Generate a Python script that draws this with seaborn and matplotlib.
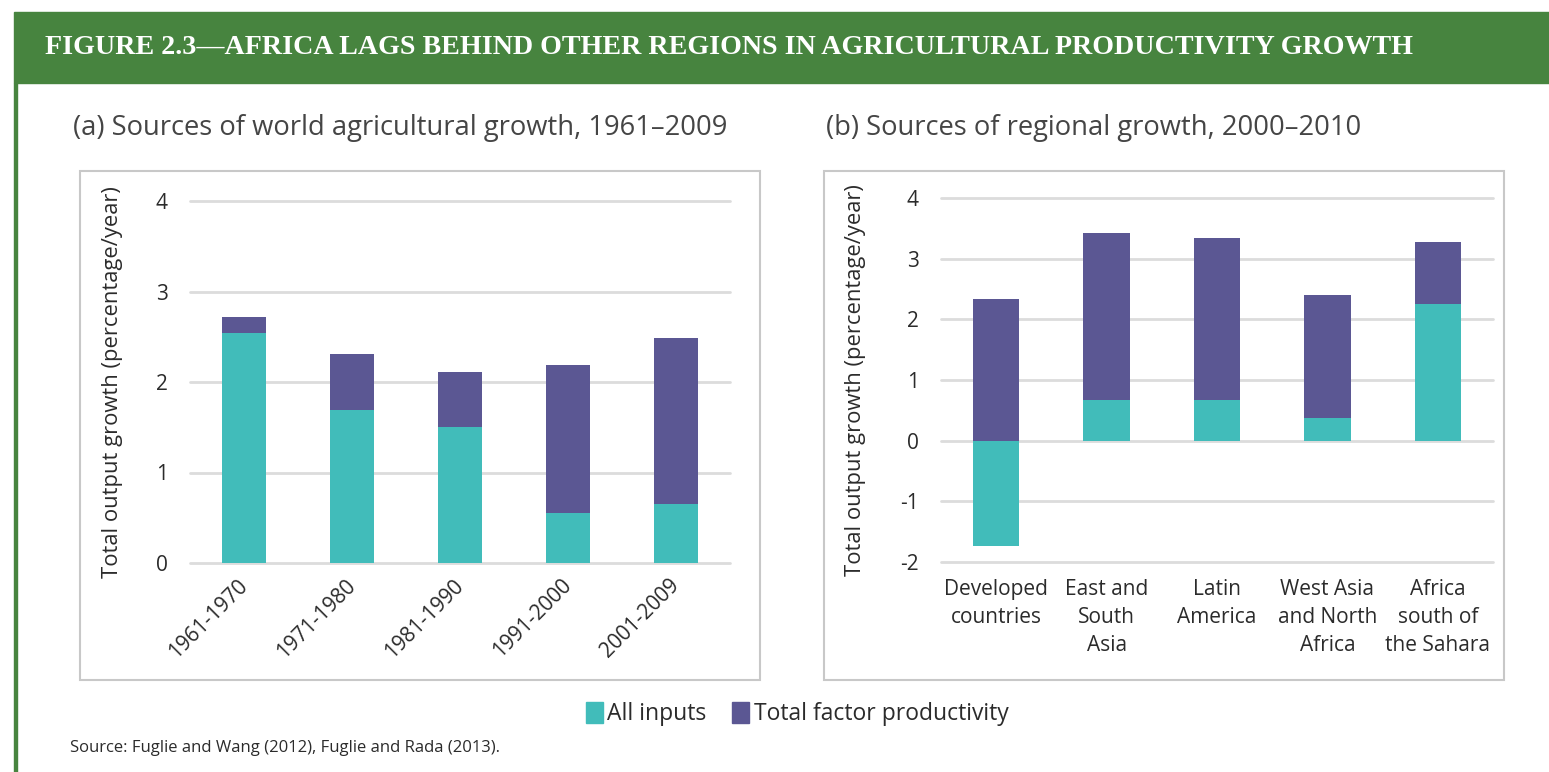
import matplotlib
matplotlib.use("Agg")
import matplotlib.pyplot as plt
from matplotlib.patches import Rectangle, Patch
import pandas as pd
import seaborn as sns

# ---------------------- Data ----------------------

periods = ["1961-1970", "1971-1980", "1981-1990", "1991-2000", "2001-2009"]
world_inputs = [2.54, 1.69, 1.50, 0.55, 0.65]
world_tfp = [0.18, 0.62, 0.61, 1.64, 1.84]

regions = ["Developed\ncountries", "East and\nSouth\nAsia", "Latin\nAmerica",
           "West Asia\nand North\nAfrica", "Africa\nsouth of\nthe Sahara"]
region_inputs = [-1.73, 0.67, 0.67, 0.37, 2.25]
region_tfp = [2.34, 2.76, 2.67, 2.03, 1.02]

series_names = ["All inputs", "Total factor productivity"]
y_ticks_a = [0, 1, 2, 3, 4]
y_ticks_b = [-2, -1, 0, 1, 2, 3, 4]

TEAL = "#41BCBA"
PURPLE = "#5B5793"
GREEN = "#47843F"
GRID = "#DCDCDC"
BOX = "#C8C8C8"
TEXT = "#2B2B2B"

sns.set_style("white")
plt.rcParams["font.family"] = ["Open Sans", "DejaVu Sans"]

W, H = 1549, 772


def px_rect(x0, y0, x1, y1):
    # pixel box (top-left origin) -> figure fraction rect
    return [x0 / W, 1 - y1 / H, (x1 - x0) / W, (y1 - y0) / H]


def stacked(ax, cats, inputs, tfp, width):
    df = pd.DataFrame({"cat": cats, "inputs": inputs, "tfp": tfp})
    # TFP sits on top of positive inputs, starts at zero otherwise
    df["top"] = df["tfp"] + df["inputs"].clip(lower=0)
    sns.barplot(data=df, x="cat", y="top", color=PURPLE, saturation=1,
                width=width, linewidth=0, ax=ax, zorder=2)
    sns.barplot(data=df, x="cat", y="inputs", color=TEAL, saturation=1,
                width=width, linewidth=0, ax=ax, zorder=3)


def style_axis(ax, ticks, label_x):
    ax.set_ylim(ticks[0], ticks[-1])
    ax.set_yticks(ticks)
    ax.set_yticklabels([str(t) for t in ticks])
    ax.yaxis.grid(True, color=GRID, lw=2)
    ax.set_axisbelow(True)
    for gl in ax.get_ygridlines():
        gl.set_clip_on(False)
    for s in ax.spines.values():
        s.set_visible(False)
    ax.tick_params(axis="both", length=0, colors=TEXT)
    ax.tick_params(axis="y", labelsize=15, pad=16)
    ax.set_xlabel("")
    ax.set_ylabel("Total output growth (percentage/year)", fontsize=15.8, color=TEXT)
    ax.yaxis.set_label_coords(label_x, 0.5)


fig = plt.figure(figsize=(W / 100, H / 100), dpi=100)

# header band and green left rule
fig.patches.append(Rectangle((14 / W, 1 - 83 / H), 1 - 14 / W, 71 / H,
                             transform=fig.transFigure, color=GREEN, zorder=0))
fig.patches.append(Rectangle((14 / W, 0), 3 / W, 1 - 83 / H,
                             transform=fig.transFigure, color=GREEN, zorder=0))
fig.text(45 / W, 1 - 48 / H,
         "FIGURE 2.3\u2014AFRICA LAGS BEHIND OTHER REGIONS IN AGRICULTURAL PRODUCTIVITY GROWTH",
         family="Liberation Serif", weight="bold", color="white", fontsize=20.2, va="center")

# panel boxes
for x0, x1 in [(80, 760), (824, 1504)]:
    r = px_rect(x0, 171, x1, 680)
    fig.patches.append(Rectangle((r[0], r[1]), r[2], r[3], transform=fig.transFigure,
                                 fill=False, edgecolor=BOX, lw=1.5))

fig.text(73 / W, 1 - 128 / H, "(a) Sources of world agricultural growth, 1961\u20132009",
         fontsize=19.7, color="#454545", va="center")
fig.text(826 / W, 1 - 128 / H, "(b) Sources of regional growth, 2000\u20132010",
         fontsize=19.7, color="#454545", va="center")

# ---------------------- Panel (a) ----------------------
ax_a = fig.add_axes(px_rect(190, 201, 730, 563))
stacked(ax_a, periods, world_inputs, world_tfp, 0.41)
style_axis(ax_a, y_ticks_a, -0.124)
ax_a.set_xticks(range(len(periods)))
ax_a.set_xticklabels(periods, rotation=45, ha="right", va="center",
                     rotation_mode="anchor", fontsize=15)
ax_a.tick_params(axis="x", pad=14)

# ---------------------- Panel (b) ----------------------
ax_b = fig.add_axes(px_rect(941, 198, 1493, 562))
stacked(ax_b, regions, region_inputs, region_tfp, 0.42)
style_axis(ax_b, y_ticks_b, -0.136)
ax_b.set_xticks(range(len(regions)))
ax_b.set_xticklabels(regions, fontsize=15, linespacing=1.45)
ax_b.tick_params(axis="x", pad=12)

# ---------------------- Legend and source ----------------------
handles = [Patch(color=TEAL), Patch(color=PURPLE)]
fig.legend(handles, series_names, loc="center", bbox_to_anchor=(797 / W, 1 - 714 / H),
           ncol=2, frameon=False, fontsize=16.5, handlelength=0.75, handleheight=1.05,
           handletextpad=0.2, columnspacing=1.1, labelcolor=TEXT)

fig.text(70 / W, 1 - 748 / H, "Source: Fuglie and Wang (2012), Fuglie and Rada (2013).",
         fontsize=12, color=TEXT, va="center")

fig.savefig("out.png", dpi=100)
